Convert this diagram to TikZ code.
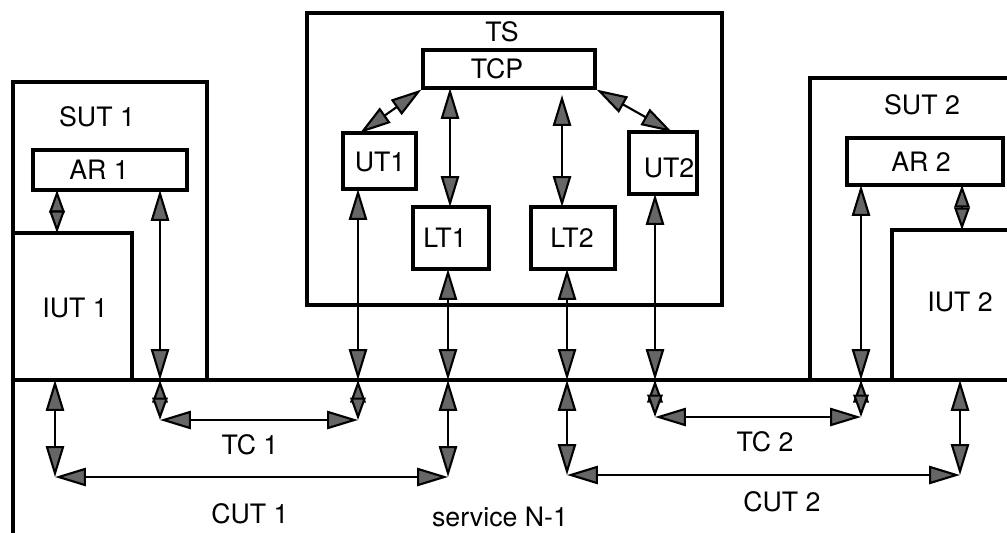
\documentclass[tikz,border=0pt]{standalone}
\usepackage{fontspec}
\setmainfont{TeX Gyre Heros}
\usetikzlibrary{arrows.meta,fit}

\begin{document}
\begin{tikzpicture}[x=0.025cm,y=-0.025cm,
  every node/.style={font=\fontsize{19}{22}\selectfont},
  frame/.style={line width=2.2pt},
  box/.style={draw,line width=2.2pt,inner sep=0pt},
  dbl/.style={line width=1.5pt,{Triangle[length=22pt,width=13pt,fill=black!60]}-{Triangle[length=22pt,width=13pt,fill=black!60]}},
  sdbl/.style={line width=1.5pt,{Triangle[length=16pt,width=11pt,fill=black!60]}-{Triangle[length=16pt,width=11pt,fill=black!60]}}]
\useasboundingbox (0,0) rectangle (1007,533);
%system under test 1 and 2, service line
\draw[frame] (13,533) -- (13,82) -- (207,82) -- (207,380);
\draw[frame] (13,233) -- (132,233) -- (132,380);
\draw[frame] (810,380) -- (810,78) -- (1007,78);
\draw[frame] (1007,230) -- (892,230) -- (892,380);
\draw[frame] (13,380) -- (1007,380);
%boxes
\node[box,fit={(307,13) (722,305)}] (ts) {};
\node[box,fit={(33,150) (187,190)}] (ar1) {};
\node[box,fit={(847,138) (1003,185)}] (ar2) {};
\node[box,fit={(423,50) (595,88)}] (tcp) {};
\node[box,fit={(343,133) (416,189)}] (ut1) {};
\node[box,fit={(629,132) (697,194)}] (ut2) {};
\node[box,fit={(413,207) (489,269)}] (lt1) {};
\node[box,fit={(531,207) (615,269)}] (lt2) {};
%Labeling
\node (tslabel) at (502,32) {TS};
\node (tcplabel) at (497,69) {TCP};
\node (ar1label) at (99,170) {AR 1};
\node (ar2label) at (921,162) {AR 2};
\node (ut1label) at (380,162) {UT1};
\node (ut2label) at (669,168) {UT2};
\node (lt1label) at (445,238) {LT1};
\node (lt2label) at (572,238) {LT2};
\node (sut1) at (97,117) {SUT 1};
\node (iut1) at (75,308) {IUT 1};
\node (sut2) at (922,105) {SUT 2};
\node (iut2) at (960,302) {IUT 2};
\node (tc1) at (250,445) {TC 1};
\node (cut1) at (250,514) {CUT 1};
\node (tc2) at (765,442) {TC 2};
\node (cut2) at (782,502) {CUT 2};
\node (serv) at (500,517) {service N-1};
%points for the arrows
\coordinate (a1) at (57,190);   \coordinate (i1) at (57,233);
\coordinate (a1b) at (160,190); \coordinate (s1) at (160,380);
\coordinate (t1a) at (160,420); \coordinate (t1b) at (358,420);
\coordinate (u1t) at (360,133); \coordinate (u1b) at (358,189);
\coordinate (s2) at (358,380);
\coordinate (c1a) at (55,380);  \coordinate (c1b) at (55,477);
\coordinate (c1c) at (448,477); \coordinate (s3) at (448,380);
\coordinate (l1t) at (450,207); \coordinate (p1) at (450,88);
\coordinate (l1b) at (448,269);
\coordinate (p2) at (562,95);   \coordinate (l2t) at (562,207);
\coordinate (l2b) at (567,269); \coordinate (s4) at (567,380);
\coordinate (c2b) at (567,475); \coordinate (c2c) at (960,475);
\coordinate (s7) at (960,380);
\coordinate (u2t) at (672,132); \coordinate (u2b) at (655,194);
\coordinate (s5) at (655,380);  \coordinate (t2a) at (655,417);
\coordinate (t2b) at (861,417); \coordinate (s6) at (861,380);
\coordinate (a2b) at (861,185); \coordinate (a2) at (962,185);
\coordinate (i2) at (962,230);
%arrows
\draw[sdbl] (a1) -- (i1);
\draw[dbl] (a1b) -- (s1);
\draw[sdbl] (s1) -- (t1a);
\draw[dbl] (t1a) -- (t1b);
\draw[sdbl] (s2) -- (t1b);
\draw[dbl] (tcp.south west) -- (u1t);
\draw[dbl] (u1b) -- (s2);
\draw[dbl] (p1) -- (l1t);
\draw[dbl] (l1b) -- (s3);
\draw[dbl] (c1a) -- (c1b);
\draw[dbl] (c1b) -- (c1c);
\draw[dbl] (s3) -- (c1c);
\draw[dbl] (p2) -- (l2t);
\draw[dbl] (l2b) -- (s4);
\draw[dbl] (s4) -- (c2b);
\draw[dbl] (c2b) -- (c2c);
\draw[dbl] (s7) -- (c2c);
\draw[dbl] (tcp.south east) -- (u2t);
\draw[dbl] (u2b) -- (s5);
\draw[sdbl] (s5) -- (t2a);
\draw[dbl] (t2a) -- (t2b);
\draw[sdbl] (s6) -- (t2b);
\draw[dbl] (a2b) -- (s6);
\draw[sdbl] (a2) -- (i2);
\end{tikzpicture}
\end{document}
